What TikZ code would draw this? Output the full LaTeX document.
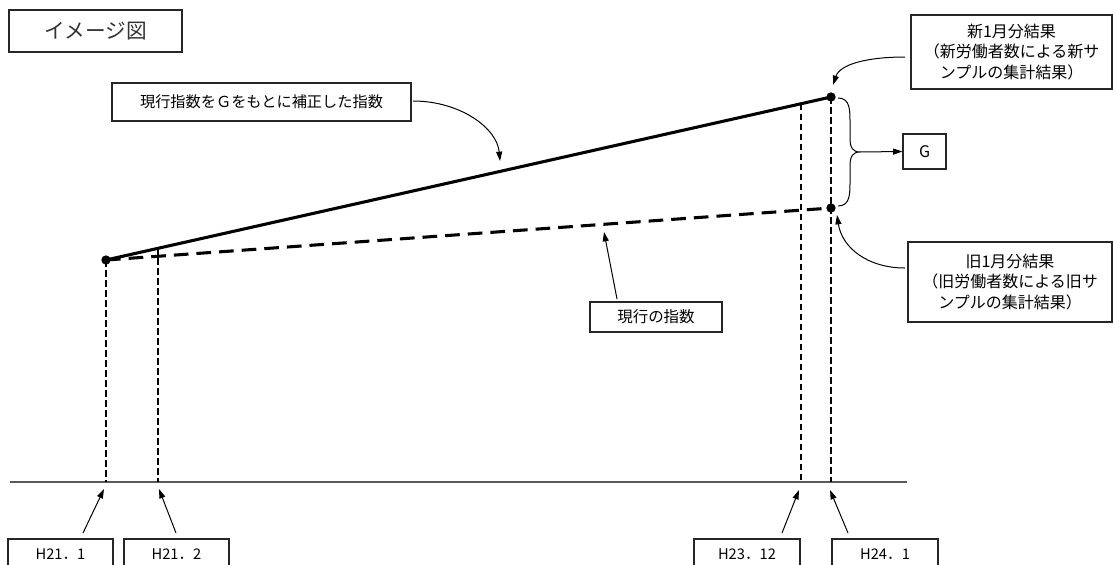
\documentclass[tikz,border=0pt]{standalone}
\usepackage{fontspec}
\setmainfont{Noto Sans CJK JP}
\usetikzlibrary{arrows.meta,calc}
\begin{document}
\begin{tikzpicture}[x=0.75pt,y=-0.75pt,
  box/.style={draw=black!85,line width=0.8pt,inner sep=0pt,align=center},
  ptr/.style={line width=0.75pt,-{Triangle[length=7pt,width=4.5pt]}},
  vdash/.style={line width=1.6pt,dash pattern=on 5pt off 2.5pt},
  dot/.style={circle,fill=black,inner sep=0pt,minimum size=7pt}]
\useasboundingbox (0,0) rectangle (1113,564);
% boxes
\node[box,minimum width=173*0.75pt,minimum height=42*0.75pt,font=\fontsize{15.5}{18}\selectfont,text=black!80] (title) at (95.5,31) {イメージ図};
\node[box,minimum width=299*0.75pt,minimum height=38*0.75pt,font=\fontsize{11.4}{14}\selectfont] (corr) at (261.5,102) {現行指数をＧをもとに補正した指数};
\node[box,minimum width=201*0.75pt,minimum height=74*0.75pt,font=\fontsize{12}{15.5}\selectfont] (new) at (1011.5,52) {新1月分結果\\（新労働者数による新サ\\ンプルの集計結果）};
\node[box,minimum width=204*0.75pt,minimum height=80*0.75pt,font=\fontsize{12}{15.5}\selectfont] (old) at (1010,282) {旧1月分結果\\（旧労働者数による旧サ\\ンプルの集計結果）};
\node[box,minimum width=43*0.75pt,minimum height=35*0.75pt,font=\fontsize{12}{14}\selectfont] (G) at (924.5,151.5) {G};
\node[box,minimum width=132*0.75pt,minimum height=30*0.75pt,font=\fontsize{11.6}{14}\selectfont] (cur) at (656,317) {現行の指数};
\node[box,minimum width=105*0.75pt,minimum height=30*0.75pt,font=\fontsize{11}{13}\selectfont] (h1) at (60.5,554) {H21．1};
\node[box,minimum width=105*0.75pt,minimum height=30*0.75pt,font=\fontsize{11}{13}\selectfont] (h2) at (176.5,554) {H21．2};
\node[box,minimum width=106*0.75pt,minimum height=30*0.75pt,font=\fontsize{11}{13}\selectfont] (h3) at (747,554) {H23．12};
\node[box,minimum width=106*0.75pt,minimum height=30*0.75pt,font=\fontsize{11}{13}\selectfont] (h4) at (885,554) {H24．1};
% key points
\coordinate (A) at (106,260);
\coordinate (B) at (831,97);
\coordinate (C) at (831,208);
\coordinate (P2) at ($(A)!0.0717!(B)$);
\coordinate (P3) at ($(A)!0.9586!(B)$);
\coordinate (L) at (10,482);
\coordinate (R) at (907,482);
% baseline
\draw[black!65,line width=1.2pt] (L) -- (R);
% vertical dashed lines
\draw[vdash] (A) -- (A |- L);
\draw[vdash] (P2) -- (P2 |- L);
\draw[vdash] (P3) -- (P3 |- L);
\draw[vdash] (B) -- (B |- L);
% index lines
\draw[line width=2.3pt] (A) -- (B);
\draw[line width=2.3pt,dash pattern=on 11pt off 6pt] (A) -- (C);
\node[dot] (dA) at (A) {};
\node[dot] (dB) at (B) {};
\node[dot] (dC) at (C) {};
% brace
\coordinate (T) at (860,152);
\draw[line width=0.75pt] (838,98) .. controls (850,98) and (850,110) .. (850,122) -- (850,138) .. controls (850,148) and (853,152) .. (T) .. controls (853,152) and (850,156) .. (850,166) -- (850,182) .. controls (850,194) and (850,206) .. (838,206);
\draw[ptr] (T) -- (G.west);
% curved pointers
\coordinate (c1s) at (413,101);
\coordinate (c1e) at (500,161);
\draw[ptr] (c1s) .. controls (460,101) and (497,128) .. (c1e);
\coordinate (c2s) at (905,57);
\coordinate (c2e) at (833,85);
\draw[ptr] (c2s) .. controls (868,57) and (840,64) .. (c2e);
\coordinate (c3s) at (905,268);
\coordinate (c3e) at (837,215);
\draw[ptr] (c3s) .. controls (868,268) and (842,248) .. (c3e);
% straight pointers
\coordinate (s0) at (617,299);
\coordinate (e0) at (604,232);
\draw[ptr] (s0) -- (e0);
\coordinate (s1) at (83,533);
\coordinate (e1) at (104,489);
\draw[ptr] (s1) -- (e1);
\coordinate (s2) at (176,533);
\coordinate (e2) at (159,489);
\draw[ptr] (s2) -- (e2);
\coordinate (s3) at (782,533);
\coordinate (e3) at (799,490);
\draw[ptr] (s3) -- (e3);
\coordinate (s4) at (848,533);
\coordinate (e4) at (830,490);
\draw[ptr] (s4) -- (e4);
\end{tikzpicture}
\end{document}
